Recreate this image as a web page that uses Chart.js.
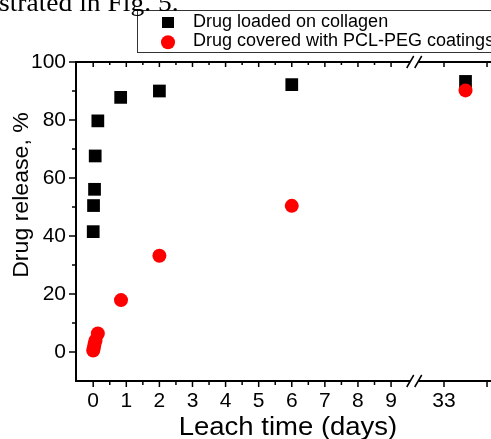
<!DOCTYPE html>
<html>
<head>
<meta charset="utf-8">
<script src="https://cdn.jsdelivr.net/npm/chart.js@4.4.0/dist/chart.umd.min.js"></script>
<style>
  html, body { margin: 0; padding: 0; background: #fff; }
  #wrap { position: relative; width: 491px; height: 439px; overflow: hidden; }
  #chart { position: absolute; left: 0; top: 0; }
  #caption {
    position: absolute; left: -1px; top: -10px;
    font: 25px/25px "Liberation Serif", "Times New Roman", serif;
    color: #000; white-space: nowrap;
    transform: scaleX(1.1); transform-origin: left top;
  }
</style>
</head>
<body>
<div id="wrap">
  <canvas id="chart" width="491" height="439"></canvas>
  <div id="caption">strated in Fig. 5.</div>
</div>
<script>
// data (days, % released)
const collagenDays = [0, 0.01, 0.04, 0.06, 0.14, 0.83, 2, 6, 33.5];
const collagenRelease = [41.5, 50.5, 56.1, 67.6, 79.7, 87.8, 90.0, 92.2, 93.3];
const coatedDays = [0, 0.02, 0.04, 0.07, 0.14, 0.84, 2, 6, 33.5];
const coatedRelease = [0.5, 1.5, 2.8, 4.0, 6.4, 17.9, 33.2, 50.4, 90.2];

const seriesNames = ['Drug loaded on collagen', 'Drug covered with PCL-PEG coatings'];
const xTitle = 'Leach time (days)';
const yTitle = 'Drug release, %';

const xTickDays = [0, 1, 2, 3, 4, 5, 6, 7, 8, 9, 33, 34];
const xTickLabels = ['0', '1', '2', '3', '4', '5', '6', '7', '8', '9', '33', ''];
const xMinorDays = [0.5, 1.5, 2.5, 3.5, 4.5, 5.5, 6.5, 7.5, 8.5];
const yTicks = [0, 20, 40, 60, 80, 100];
const yMinor = [10, 30, 50, 70, 90];

// broken x axis: linear up to the break, then a short segment around 33 days
const breakAt = 9.7;
function toAxis(t) {
    return t <= breakAt ? t : 10.6 + (t - 33) * 1.3;
}

const sans = '"Liberation Sans", Arial, sans-serif';

// axis frame, ticks, break marks, titles and the boxed legend
const framePlugin = {
    id: 'frame',
    beforeDatasetsDraw(chart) {
        const { ctx, chartArea: a, scales: { x, y } } = chart;
        const bx = x.getPixelForValue(breakAt);
        ctx.save();
        ctx.strokeStyle = '#000';
        ctx.lineWidth = 2;

        ctx.beginPath();
        ctx.moveTo(a.left, a.top - 1);
        ctx.lineTo(a.left, a.bottom + 1);
        [a.top, a.bottom].forEach(yy => {
            ctx.moveTo(a.left, yy);
            ctx.lineTo(bx - 4, yy);
            ctx.moveTo(bx + 4, yy);
            ctx.lineTo(a.right + 2, yy);
        });
        ctx.stroke();

        // break marks
        ctx.lineWidth = 1.5;
        ctx.beginPath();
        [a.top, a.bottom].forEach(yy => {
            [bx - 4, bx + 4].forEach(sx => {
                ctx.moveTo(sx - 3.5, yy + 6);
                ctx.lineTo(sx + 3.5, yy - 6);
            });
        });
        ctx.stroke();

        // ticks
        ctx.beginPath();
        yTicks.forEach(v => {
            const py = y.getPixelForValue(v);
            ctx.moveTo(a.left - 7, py); ctx.lineTo(a.left, py);
        });
        yMinor.forEach(v => {
            const py = y.getPixelForValue(v);
            ctx.moveTo(a.left - 4, py); ctx.lineTo(a.left, py);
        });
        xTickDays.forEach(d => {
            const px = x.getPixelForValue(toAxis(d));
            ctx.moveTo(px, a.bottom); ctx.lineTo(px, a.bottom + 6);
            ctx.moveTo(px, a.top); ctx.lineTo(px, a.top + 5);
        });
        xMinorDays.forEach(d => {
            const px = x.getPixelForValue(toAxis(d));
            ctx.moveTo(px, a.bottom); ctx.lineTo(px, a.bottom + 4);
            ctx.moveTo(px, a.top); ctx.lineTo(px, a.top + 3);
        });
        ctx.stroke();
        ctx.restore();
    },
    afterDraw(chart) {
        const { ctx } = chart;
        ctx.save();
        ctx.fillStyle = '#000';
        ctx.textAlign = 'center';
        ctx.textBaseline = 'alphabetic';

        // axis titles (slightly wide, as in the original)
        ctx.save();
        ctx.translate(288, 435);
        ctx.scale(1.1, 1);
        ctx.font = '25px ' + sans;
        ctx.fillText(xTitle, 0, 0);
        ctx.restore();

        ctx.save();
        ctx.translate(27.5, 195);
        ctx.rotate(-Math.PI / 2);
        ctx.scale(1.05, 1);
        ctx.font = '22px ' + sans;
        ctx.fillText(yTitle, 0, 0);
        ctx.restore();

        // legend
        ctx.fillStyle = '#fff';
        ctx.fillRect(137, 10, 360, 42);
        ctx.strokeStyle = '#333';
        ctx.lineWidth = 1;
        ctx.strokeRect(137.5, 10.5, 360, 42);

        ctx.fillStyle = '#000';
        ctx.fillRect(162, 17, 12, 11);
        ctx.fillStyle = '#ff0000';
        ctx.beginPath();
        ctx.arc(168, 42.3, 7, 0, Math.PI * 2);
        ctx.fill();

        ctx.fillStyle = '#000';
        ctx.font = '18px ' + sans;
        ctx.textBaseline = 'middle';
        ctx.textAlign = 'left';
        ctx.fillText(seriesNames[0], 193, 22);
        ctx.fillText(seriesNames[1], 193, 41.5);
        ctx.restore();
    }
};

const ctx = document.getElementById('chart').getContext('2d');
new Chart(ctx, {
    type: 'scatter',
    data: {
        datasets: [
            {
                label: seriesNames[0],
                data: collagenDays.map((d, i) => ({ x: toAxis(d), y: collagenRelease[i] })),
                pointStyle: 'rect',
                pointRadius: 9,
                backgroundColor: '#000',
                borderWidth: 0,
                order: 1
            },
            {
                label: seriesNames[1],
                data: coatedDays.map((d, i) => ({ x: toAxis(d), y: coatedRelease[i] })),
                pointStyle: 'circle',
                pointRadius: 7,
                backgroundColor: '#ff0000',
                borderWidth: 0,
                order: 0
            }
        ]
    },
    options: {
        responsive: false,
        animation: false,
        layout: { autoPadding: false, padding: { top: 62, right: 0, left: 0, bottom: 0 } },
        plugins: {
            legend: { display: false },
            tooltip: { enabled: false }
        },
        scales: {
            x: {
                type: 'linear',
                min: -0.52,
                max: 12.02,
                afterFit: s => { s.height = 58; s.paddingLeft = 0; s.paddingRight = 0; },
                afterBuildTicks: s => { s.ticks = xTickDays.map(d => ({ value: toAxis(d) })); },
                grid: { display: false, drawTicks: false },
                border: { display: false },
                ticks: {
                    autoSkip: false,
                    maxRotation: 0,
                    padding: 8,
                    color: '#000',
                    font: { family: sans, size: 21 },
                    callback: (v, i) => xTickLabels[i]
                }
            },
            y: {
                min: -10,
                max: 100,
                afterFit: s => { s.width = 76; s.paddingTop = 0; s.paddingBottom = 0; },
                afterBuildTicks: s => { s.ticks = yTicks.map(v => ({ value: v })); },
                grid: { display: false, drawTicks: false },
                border: { display: false },
                ticks: {
                    padding: 10,
                    color: '#000',
                    font: { family: sans, size: 21 }
                }
            }
        }
    },
    plugins: [framePlugin]
});
</script>
</body>
</html>
